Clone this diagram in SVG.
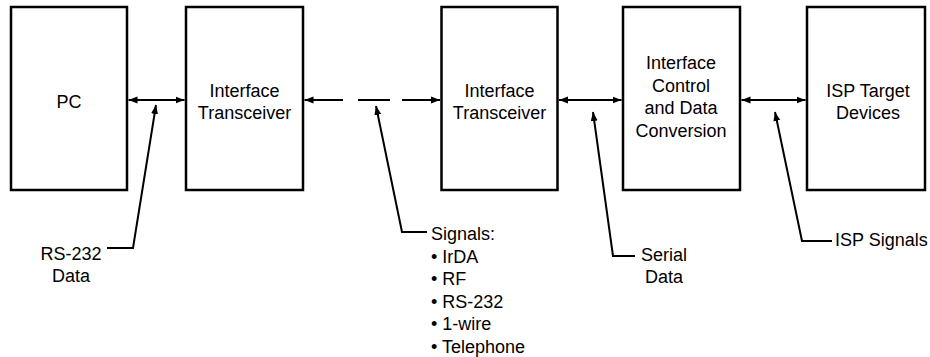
<svg xmlns="http://www.w3.org/2000/svg" width="930" height="357" viewBox="0 0 930 357">
<style>
.box{fill:#fff;stroke:#000;stroke-width:2.5}
.t{font-family:"Liberation Sans",Arial,sans-serif;font-size:18px;fill:#000}
.c{text-anchor:middle}
.ln{fill:none;stroke:#000;stroke-width:2}
</style>
<defs>
<marker id="ah" markerUnits="userSpaceOnUse" markerWidth="10" markerHeight="8" refX="9" refY="4" orient="auto-start-reverse">
<path d="M0,0.5 L9,4 L0,7.5 Z" fill="#000"/>
</marker>
</defs>
<rect width="930" height="357" fill="#fff"/>
<g id="pc"><rect class="box" x="11" y="7" width="116" height="183"/><text class="t c" x="69" y="108">PC</text></g>
<g id="xcvr1"><rect class="box" x="186" y="7" width="117" height="183"/><text class="t c" x="244.5" y="97">Interface</text><text class="t c" x="244.5" y="119">Transceiver</text></g>
<g id="xcvr2"><rect class="box" x="441.5" y="7" width="116" height="183"/><text class="t c" x="499.5" y="97">Interface</text><text class="t c" x="499.5" y="119">Transceiver</text></g>
<g id="ctrl"><rect class="box" x="623" y="7" width="117" height="183"/><text class="t c" x="681" y="69">Interface</text><text class="t c" x="681" y="92">Control</text><text class="t c" x="681" y="114">and Data</text><text class="t c" x="681" y="137">Conversion</text></g>
<g id="isp"><rect class="box" x="807" y="7" width="118" height="183"/><text class="t c" x="868" y="97">ISP Target</text><text class="t c" x="868" y="119">Devices</text></g>
<g id="connectors">
<line class="ln" x1="128.5" y1="100" x2="184.5" y2="100" marker-start="url(#ah)" marker-end="url(#ah)"/>
<line class="ln" x1="304.5" y1="100" x2="343" y2="100" marker-start="url(#ah)"/>
<line class="ln" x1="358" y1="100" x2="390" y2="100"/>
<line class="ln" x1="402" y1="100" x2="440" y2="100" marker-end="url(#ah)"/>
<line class="ln" x1="559" y1="100" x2="621.5" y2="100" marker-start="url(#ah)" marker-end="url(#ah)"/>
<line class="ln" x1="741.5" y1="100" x2="805.5" y2="100" marker-start="url(#ah)" marker-end="url(#ah)"/>
<polyline class="ln" points="107,248 133,248 156,105" marker-end="url(#ah)"/>
<polyline class="ln" points="427,232 402,232 376,106" marker-end="url(#ah)"/>
<polyline class="ln" points="635,256 613,256 593,112" marker-end="url(#ah)"/>
<polyline class="ln" points="832,241 802,241 775,112" marker-end="url(#ah)"/>
</g>
<g id="labels">
<text class="t c" x="71" y="260">RS-232</text><text class="t c" x="71" y="282">Data</text>
<text class="t" x="431" y="240">Signals:</text>
<text class="t" x="431" y="263">• IrDA</text>
<text class="t" x="431" y="285">• RF</text>
<text class="t" x="431" y="308">• RS-232</text>
<text class="t" x="431" y="330">• 1-wire</text>
<text class="t" x="431" y="353">• Telephone</text>
<text class="t c" x="664" y="261">Serial</text><text class="t c" x="664" y="283">Data</text>
<text class="t" x="835" y="246">ISP Signals</text>
</g>
</svg>
